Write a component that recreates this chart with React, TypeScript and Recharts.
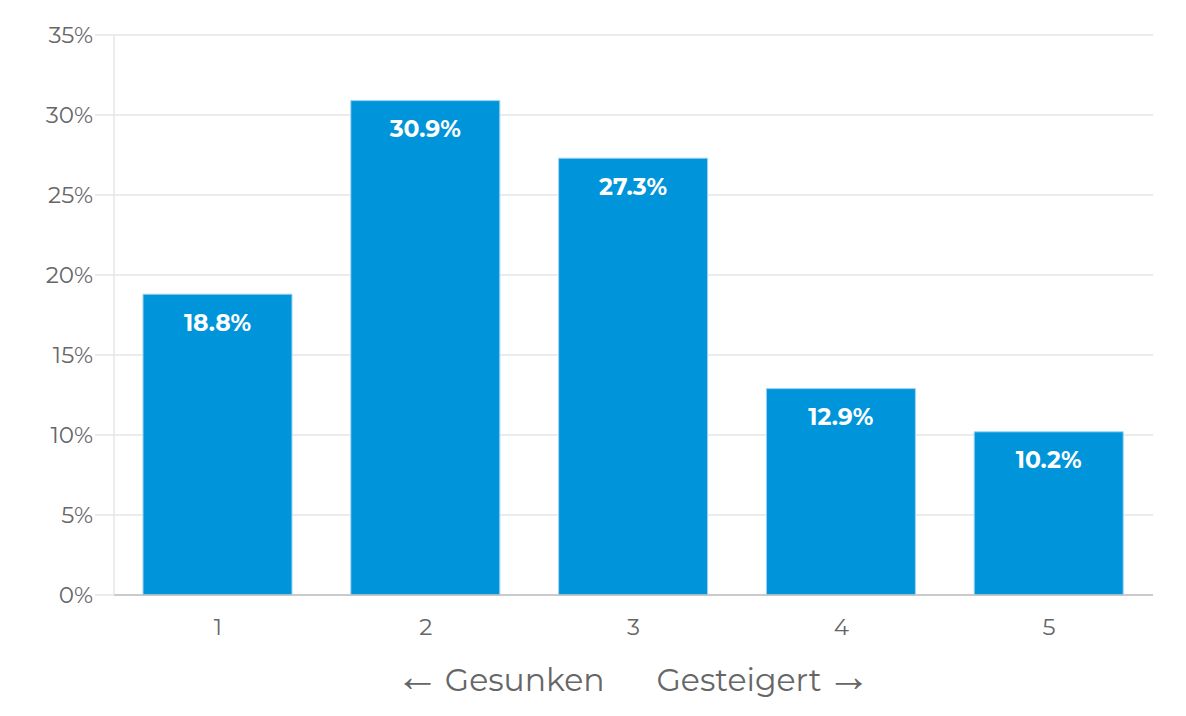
import React from 'react';
import { BarChart, Bar, XAxis, YAxis, CartesianGrid, LabelList } from 'recharts';

const categories = ['1', '2', '3', '4', '5'];
const shares = [18.8, 30.9, 27.3, 12.9, 10.2];
const yTicks = [0, 5, 10, 15, 20, 25, 30, 35];

const FONT = "Montserrat, 'Open Sans', sans-serif";
const ARROW_FONT = "'Noto Sans', sans-serif";
const BLUE = '#0095da';
const GREY = '#666666';

const chartData = categories.map((c, i) => ({ name: c, value: shares[i] }));

const AxisCaption = (props: any) => {
    const { viewBox } = props;
    const cx = viewBox.x + viewBox.width / 2 - 3;
    const cy = viewBox.y + 85;
    return (
        <g>
            <text x={cx - 26} y={cy} textAnchor="end" dominantBaseline="central" fill={GREY} fontSize={31.5} fontFamily={FONT}>
                <tspan fontFamily={ARROW_FONT} fontSize={44} dy={-6}>←</tspan>
                <tspan dy={6} dx={-3}> Gesunken</tspan>
            </text>
            <text x={cx + 26} y={cy} textAnchor="start" dominantBaseline="central" fill={GREY} fontSize={31.5} fontFamily={FONT}>
                <tspan>Gesteigert </tspan>
                <tspan fontFamily={ARROW_FONT} fontSize={44} dy={-6} dx={-3}>→</tspan>
            </text>
        </g>
    );
};

export default function App() {
    return (
        <div style={{ width: 1170, height: 700, background: '#fff', fontFamily: FONT }}>
            <BarChart width={1170} height={700} data={chartData} margin={{ top: 27, right: 25, left: 0, bottom: 0 }}>
                <CartesianGrid vertical={false} stroke="#e6e6e6" strokeWidth={1.5} />
                <XAxis
                    dataKey="name"
                    height={113}
                    axisLine={{ stroke: '#bfbfbf', strokeWidth: 1.5 }}
                    tickLine={false}
                    tickSize={6}
                    tickMargin={18}
                    tick={{ fill: GREY, fontSize: 23, fontFamily: FONT }}
                    label={{ content: AxisCaption }}
                />
                <YAxis
                    width={106}
                    domain={[0, 35]}
                    ticks={yTicks}
                    interval={0}
                    tickFormatter={(v) => `${v}%`}
                    axisLine={{ stroke: '#e6e6e6', strokeWidth: 1.5 }}
                    tickLine={{ stroke: '#e6e6e6', strokeWidth: 1.5 }}
                    tickSize={19}
                    tickMargin={2}
                    tick={{ fill: GREY, fontSize: 23, fontFamily: FONT }}
                />
                <Bar dataKey="value" fill={BLUE} stroke="#9fd3f2" strokeWidth={1} barSize={149} isAnimationActive={false}>
                    <LabelList
                        dataKey="value"
                        position="insideTop"
                        offset={20}
                        formatter={(v: any) => `${Number(v).toFixed(1)}%`}
                        fill="#ffffff"
                        fontSize={23.5}
                        fontWeight={700}
                        fontFamily={FONT}
                    />
                </Bar>
            </BarChart>
        </div>
    );
}
